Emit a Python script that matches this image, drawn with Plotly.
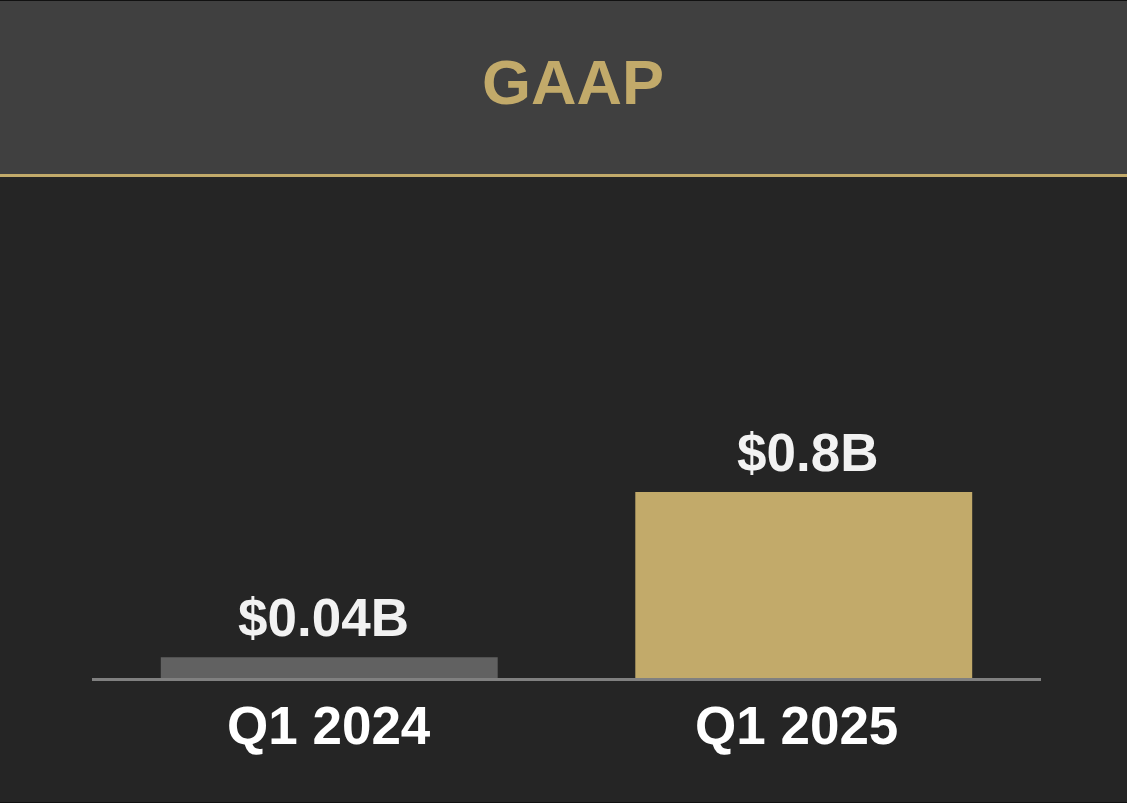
import plotly.graph_objects as go

# ─────────────────────────────────────────────
# DATA
# ─────────────────────────────────────────────
categories = ["Q1 2024", "Q1 2025"]
value_labels = ["$0.04B", "$0.8B"]
# bar heights as drawn in the picture ($B scale, small bar is drawn taller than its label)
bar_heights = [0.095, 0.8]
bar_colors = ["#616161", "#C2AA6A"]
title_text = "GAAP"

BG = "#252525"
HEADER = "#404040"
GOLD = "#C2AA6A"
FONT = "Liberation Sans, Arial, sans-serif"

W, H = 1127, 803

fig = go.Figure(go.Bar(
    x=categories,
    y=bar_heights,
    width=0.71,
    marker=dict(color=bar_colors, line=dict(width=0)),
    cliponaxis=False,
    hoverinfo="skip",
))

# value labels above bars
for cat, h, lab, dx in zip(categories, bar_heights, value_labels, [-6, 4]):
    fig.add_annotation(text=lab, x=cat, y=h, xref="x", yref="y",
                       showarrow=False, xanchor="center", yanchor="bottom",
                       xshift=dx, yshift=8,
                       font=dict(family=FONT, size=53, color="#F2F2F2", weight="bold"))

# category labels under the baseline
for cat, dx in zip(categories, [0, -7]):
    fig.add_annotation(text=cat, x=cat, y=0, xref="x", yref="y",
                       showarrow=False, xanchor="center", yanchor="top",
                       xshift=dx, yshift=-14,
                       font=dict(family=FONT, size=53, color="#FFFFFF", weight="bold"))

# header band + gold rule
fig.add_shape(type="rect", xref="paper", yref="paper",
              x0=0, x1=1, y0=(H - 174) / H, y1=1,
              fillcolor=HEADER, line=dict(width=0), layer="below")
fig.add_shape(type="line", xref="paper", yref="paper",
              x0=0, x1=1, y0=(H - 175.5) / H, y1=(H - 175.5) / H,
              line=dict(color=GOLD, width=3))
# thin dark border top and bottom
for yy in (1 - 0.5 / H, 0.5 / H):
    fig.add_shape(type="line", xref="paper", yref="paper",
                  x0=0, x1=1, y0=yy, y1=yy,
                  line=dict(color="#111111", width=1))

# baseline
fig.add_shape(type="line", xref="x", yref="y",
              x0=-0.5, x1=1.5, y0=0, y1=0,
              line=dict(color="#808080", width=3))

fig.add_annotation(text=title_text, xref="paper", yref="paper",
                   x=0.5, y=(H - 82) / H, showarrow=False,
                   xanchor="center", yanchor="middle", xshift=9,
                   font=dict(family=FONT, size=63, color=GOLD, weight="bold"))

zero_frac = 123.5 / H
span = 3.426
fig.update_layout(
    width=W, height=H,
    margin=dict(l=0, r=0, t=0, b=0),
    paper_bgcolor=BG, plot_bgcolor="rgba(0,0,0,0)",
    showlegend=False,
    xaxis=dict(domain=[92 / W, 1041 / W], range=[-0.5, 1.5],
               visible=False, showgrid=False, zeroline=False, fixedrange=True),
    yaxis=dict(domain=[0, 1], range=[-zero_frac * span, (1 - zero_frac) * span],
               visible=False, showgrid=False, zeroline=False, fixedrange=True),
)

fig.write_html("out.html", config={"displayModeBar": False},
               post_script="document.body.style.margin='0';document.body.style.overflow='hidden';")
